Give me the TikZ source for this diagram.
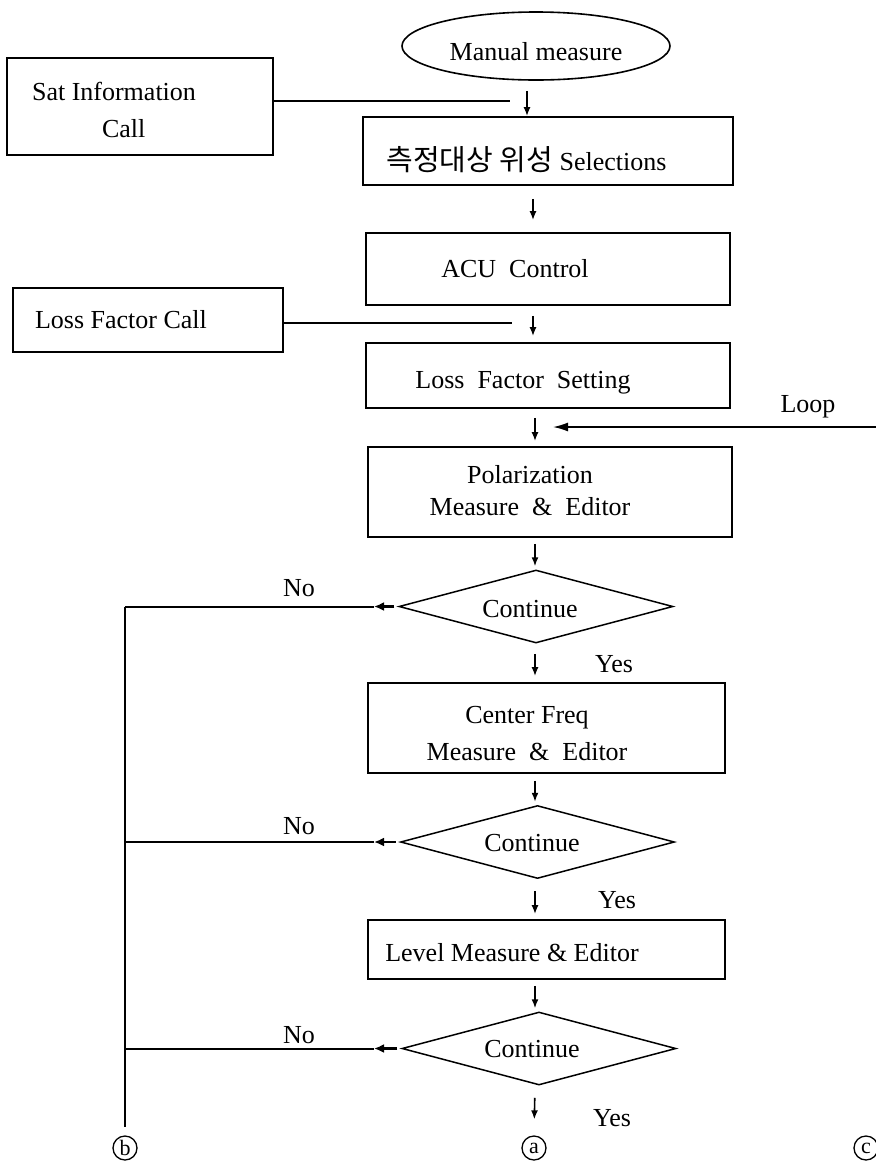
\documentclass[tikz,border=0pt]{standalone}
\usepackage{fontspec}
\setmainfont{Liberation Serif}
\newfontfamily\krfont{Noto Sans CJK KR}
\usetikzlibrary{shapes.geometric,arrows.meta,calc}
% #1: right padding (moves the text left by half of it), #2: vertical raise, #3: text
\newcommand\nudge[3]{\raisebox{#2}[\height][\depth]{#3}\kern#1\relax}
\begin{document}
\begin{tikzpicture}[x=1pt,y=-1pt,
  every node/.style={font=\fontsize{26}{31}\selectfont},
  box/.style={draw, line width=1.8pt, rectangle, inner sep=0pt},
  ell/.style={draw, line width=1.6pt, ellipse, inner sep=0pt, minimum width=268pt, minimum height=68pt},
  dia/.style={draw, line width=1.5pt, diamond, aspect=3.75, inner sep=0pt, minimum width=274pt, minimum height=73pt},
  circ/.style={draw, line width=1.3pt, circle, inner sep=0pt, minimum size=24pt, font=\fontsize{22}{24}\selectfont},
  line/.style={line width=1.6pt},
  noline/.style={line width=2pt},
  arr/.style={line width=1.6pt, -{Latex[length=9pt,width=7pt]}},
  arrL/.style={line width=2.4pt, -{Latex[length=10pt,width=9pt]}},
  arrLoop/.style={line width=1.6pt, -{Latex[length=15pt,width=9pt]}}
]
\useasboundingbox (0,0) rectangle (876,1163);

% process column
\node[ell] (start) at (536,46) {\nudge{0pt}{-6pt}{Manual measure}};
\node[box, minimum width=266pt, minimum height=97pt] (sat) at (140,106.5)
  {\nudge{52pt}{-6pt}{\begin{tabular}{@{}l@{}}Sat Information\\[6pt]\hspace*{70pt}Call\end{tabular}}};
\node[box, minimum width=370pt, minimum height=68pt] (sel) at (548,151)
  {\nudge{43pt}{-9pt}{{\krfont\fontsize{29}{32}\selectfont 측정대상 위성} Selections}};
\node[box, minimum width=364pt, minimum height=72pt] (acu) at (548,269)
  {\nudge{66pt}{0pt}{ACU\enspace Control}};
\node[box, minimum width=270pt, minimum height=64pt] (lfc) at (148,320)
  {\nudge{54pt}{0pt}{Loss Factor Call}};
\node[box, minimum width=364pt, minimum height=65pt] (lfs) at (548,375.5)
  {\nudge{50pt}{-7pt}{Loss\enspace Factor\enspace Setting}};
\node[box, minimum width=364pt, minimum height=90pt] (pol) at (550,492)
  {\nudge{40pt}{-1pt}{\begin{tabular}{@{}c@{}}Polarization\\[1pt]Measure\enspace\&\enspace Editor\end{tabular}}};
\node[dia] (d1) at (536,606.5) {\nudge{12pt}{-3pt}{Continue}};
\node[box, minimum width=357pt, minimum height=90pt] (cf) at (546.5,728)
  {\nudge{39pt}{-8pt}{\begin{tabular}{@{}c@{}}Center Freq\\[6pt]Measure\enspace\&\enspace Editor\end{tabular}}};
\node[dia] (d2) at (537.5,842) {\nudge{11pt}{-1pt}{Continue}};
\node[box, minimum width=357pt, minimum height=59pt] (lv) at (546.5,949.5)
  {\nudge{69pt}{-3pt}{Level Measure \& Editor}};
\node[dia] (d3) at (539,1048.5) {\nudge{14pt}{-1pt}{Continue}};

% branch labels
\node (no1) at (299,588) {No};
\node (no2) at (299,826) {No};
\node (no3) at (299,1035) {No};
\node (yes1) at (614,664) {Yes};
\node (yes2) at (617,900) {Yes};
\node (yes3) at (612,1118) {Yes};
\node (loop) at (808,407) {Loop};

% off-page connectors
\node[circ] (cb) at (125,1148) {b};
\node[circ] (ca) at (534,1148) {a};
\node[circ] (cc) at (866,1148) {c};

% guide coordinates
\coordinate (cA) at (527,0);
\coordinate (cB) at (533,0);
\coordinate (cC) at (535,0);
\coordinate (bx) at (125,0);
\coordinate (nx) at (374,0);
\coordinate (satj) at (510,101);
\coordinate (lfcj) at (512,323);
\coordinate (loopR) at (878,427);
\coordinate (loopT) at (553,427);

% main flow arrows
\draw[arr, shorten <=10pt] (start.south -| cA) -- (sel.north -| cA);
\draw[arr, shorten <=13pt, shorten >=12pt] (sel.south -| cB) -- (acu.north -| cB);
\draw[arr, shorten <=10pt, shorten >=6pt] (acu.south -| cB) -- (lfs.north -| cB);
\draw[arr, shorten <=9pt, shorten >=5pt] (lfs.south -| cC) -- (pol.north -| cC);
\draw[arr, shorten <=6pt, shorten >=3pt] (pol.south -| cC) -- (d1.north -| cC);
\draw[arr, shorten <=10pt, shorten >=6pt] (d1.south -| cC) -- (cf.north -| cC);
\draw[arr, shorten <=7pt, shorten >=3pt] (cf.south -| cC) -- (d2.north -| cC);
\draw[arr, shorten <=12pt, shorten >=5pt] (d2.south -| cC) -- (lv.north -| cC);
\draw[arr, shorten <=6pt, shorten >=3pt] (lv.south -| cC) -- (d3.north -| cC);
\draw[arr, shorten <=12pt, shorten >=16pt] (d3.south -| cC) -- (ca.north);

% side inputs
\draw[line] (sat.east |- satj) -- (satj);
\draw[line] (lfc.east |- lfcj) -- (lfcj);
\draw[arrLoop] (loopR) -- (loopT);

% "No" branches to connector b
\draw[arrL, shorten <=4pt] (d1.west) -- (d1.west -| nx);
\draw[arrL, shorten <=4pt] (d2.west) -- (d2.west -| nx);
\draw[arrL, shorten <=4pt] (d3.west) -- (d3.west -| nx);
\draw[noline] (d1.west -| nx) -- (d1.west -| bx);
\draw[noline] (d2.west -| nx) -- (d2.west -| bx);
\draw[noline] (d3.west -| nx) -- (d3.west -| bx);
\draw[line, shorten >=8pt] (d1.west -| bx) -- (cb.north);
\end{tikzpicture}
\end{document}
